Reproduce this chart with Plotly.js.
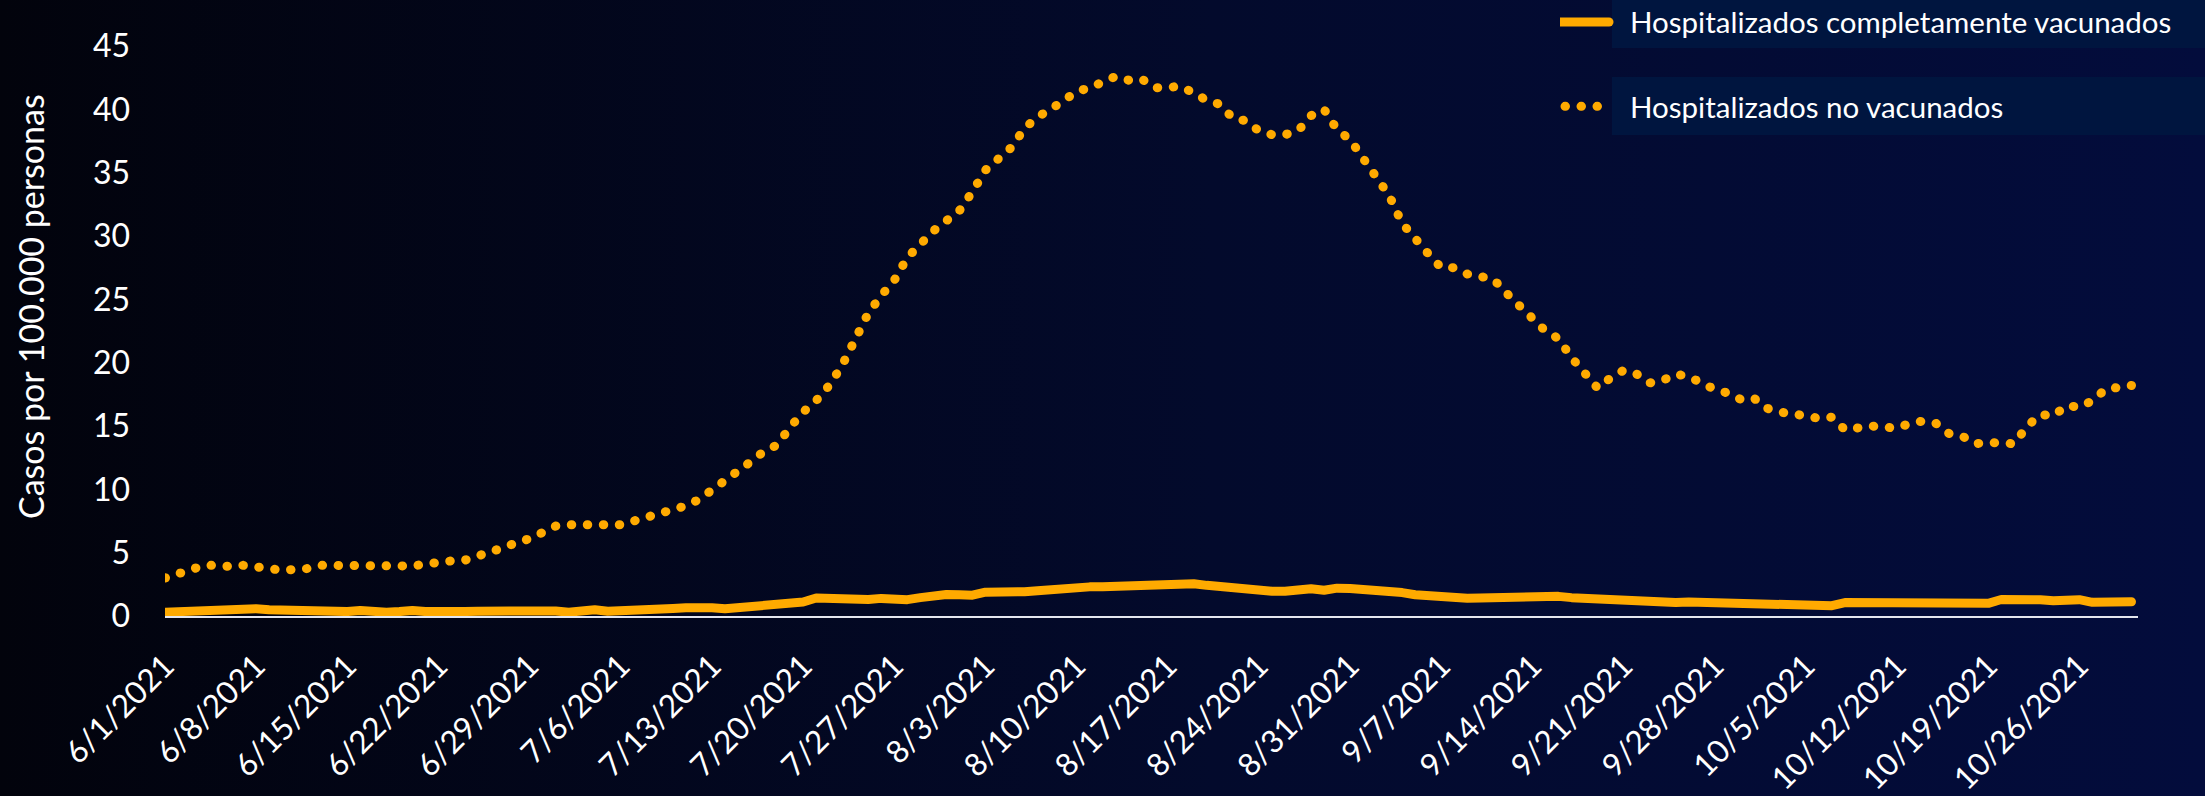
<!DOCTYPE html>
<html>
<head>
<meta charset="utf-8">
<script src="https://cdn.plot.ly/plotly-3.0.1.min.js"></script>
<style>
html, body { margin: 0; padding: 0; }
body { width: 2205px; height: 796px; overflow: hidden;
  background: linear-gradient(to right, #02030c 0%, #030a2c 55%, #030c3c 100%); }
#chart { width: 2205px; height: 796px; }
.js-line { stroke-linecap: round; stroke-linejoin: round; }
.legendlines path { transform: translateX(-16px); }
</style>
</head>
<body>
<div id="chart"></div>
<script>
// ---- data ----
var startDate = '2021-06-01';
var seriesNames = ['Hospitalizados completamente vacunados', 'Hospitalizados no vacunados'];

// Hospitalized fully vaccinated, per 100,000 (daily from 6/1/2021)
var vacunados = [
  0.3,0.35,0.4,0.45,0.5,0.55,0.6,0.58,0.5,0.47,
  0.47,0.45,0.33,0.3,0.35,0.44,0.35,0.3,0.35,0.44,
  0.35,0.3,0.3,0.35,0.38,0.4,0.4,0.42,0.43,0.44,
  0.4,0.3,0.4,0.5,0.38,0.45,0.55,0.58,0.6,0.6,
  0.65,0.7,0.65,0.57,0.65,0.78,0.88,0.92,0.98,1.1,
  1.42,1.38,1.3,1.23,1.3,1.39,1.35,1.29,1.45,1.62,
  1.7,1.67,1.64,1.88,1.85,1.83,1.92,2.0,2.1,2.22,
  2.26,2.3,2.31,2.35,2.45,2.48,2.5,2.5,2.62,2.55,
  2.42,2.3,2.22,2.15,2.05,1.96,1.96,2.05,2.15,2.03,
  2.2,2.17,2.12,2.08,2.0,1.85,1.68,1.58,1.58,1.5,
  1.4,1.42,1.45,1.57,1.6,1.6,1.6,1.55,1.45,1.4,
  1.36,1.25,1.14,1.1,1.08,1.05,1.07,1.1,1.08,1.05,
  1.03,1.02,1.01,1.0,0.82,0.81,0.82,0.82,0.81,1.06,
  1.06,1.05,1.03,1.02,1.0,0.98,0.95,0.92,0.93,0.95,
  1.0,1.3,1.32,1.3,1.29,1.2,1.25,1.29,1.08,1.08,
  1.1,1.12
];

// Hospitalized unvaccinated, per 100,000 (daily from 6/1/2021)
var noVacunados = [
  3.0,3.3,3.7,4.0,4.0,3.9,4.0,3.95,3.75,3.6,
  3.6,3.75,4.0,4.0,4.0,4.05,4.0,3.9,4.05,3.95,
  4.1,4.3,4.35,4.4,4.7,5.0,5.4,5.8,6.1,6.6,
  7.1,7.2,7.2,7.05,7.05,7.2,7.5,7.8,8.2,8.4,
  8.7,9.2,9.9,10.6,11.4,12.2,13.0,13.5,14.9,16.1,
  17.0,18.2,19.8,21.7,23.9,25.3,26.5,28.3,29.4,30.4,
  31.2,32.0,33.5,35.2,36.1,37.0,38.5,39.4,40.0,40.6,
  41.4,41.7,42.1,42.6,42.3,42.4,41.7,41.7,41.8,41.3,
  40.7,40.4,39.3,39.1,38.3,38.0,38.0,38.3,39.5,40.0,
  38.4,37.6,36.1,34.8,33.2,31.0,29.7,28.6,27.5,27.5,
  27.0,26.8,26.6,25.5,24.4,23.5,22.5,21.9,20.4,19.2,
  18.0,18.8,19.4,19.1,18.4,18.6,19.1,18.9,18.3,17.9,
  17.6,17.1,17.2,16.4,16.1,16.0,15.8,15.6,15.7,14.7,
  14.9,15.0,14.9,14.85,15.2,15.4,15.2,14.4,14.2,13.6,
  13.7,13.6,13.6,15.0,15.9,15.8,16.6,16.5,17.0,17.9,
  18.0,18.2
];

var tickDates = ['2021-06-01','2021-06-08','2021-06-15','2021-06-22','2021-06-29',
  '2021-07-06','2021-07-13','2021-07-20','2021-07-27','2021-08-03','2021-08-10',
  '2021-08-17','2021-08-24','2021-08-31','2021-09-07','2021-09-14','2021-09-21',
  '2021-09-28','2021-10-05','2021-10-12','2021-10-19','2021-10-26'];
var tickLabels = ['6/1/2021','6/8/2021','6/15/2021','6/22/2021','6/29/2021',
  '7/6/2021','7/13/2021','7/20/2021','7/27/2021','8/3/2021','8/10/2021',
  '8/17/2021','8/24/2021','8/31/2021','9/7/2021','9/14/2021','9/21/2021',
  '9/28/2021','10/5/2021','10/12/2021','10/19/2021','10/26/2021'];
var yTitle = 'Casos por 100.000 personas';

// ---- daily dates for the series ----
function isoDay(base, add) {
  var d = new Date(base + 'T00:00:00Z');
  d.setUTCDate(d.getUTCDate() + add);
  return d.toISOString().slice(0, 10);
}
var fechas = vacunados.map(function (_, i) { return isoDay(startDate, i); });
var lastDate = fechas[fechas.length - 1];

var ORANGE = '#FFAA00';
var W = 2205, H = 796, L = 165, R = 67, T = 46, B = 180;
var plotW = W - L - R, plotH = H - T - B;
function px2x(px) { return (px - L) / plotW; }
function px2y(py) { return (H - B - py) / plotH; }

var traces = [
  { x: fechas, y: vacunados, type: 'scatter', mode: 'lines', name: seriesNames[0],
    legendgroup: 'a', line: { color: ORANGE, width: 9 } },
  { x: fechas, y: noVacunados, type: 'scatter', mode: 'lines', name: seriesNames[1],
    legendgroup: 'b', line: { color: ORANGE, width: 9, dash: '0.5px,15.5px' } }
];

var layout = {
  width: W, height: H,
  margin: { l: L, r: R, t: T, b: B, pad: 0, autoexpand: false },
  paper_bgcolor: 'rgba(0,0,0,0)',
  plot_bgcolor: 'rgba(0,0,0,0)',
  font: { family: 'Lato, "Open Sans", sans-serif', color: '#FFFFFF', size: 32 },
  showlegend: true,
  legend: {
    x: px2x(1560), y: px2y(-3.7), xanchor: 'left', yanchor: 'top',
    bgcolor: 'rgba(0,0,0,0)', borderwidth: 0,
    font: { size: 29.5, color: '#FFFFFF' },
    tracegroupgap: 43, itemwidth: 60
  },
  xaxis: {
    type: 'date',
    range: [startDate, lastDate + ' 12:00'],
    tickmode: 'array', tickvals: tickDates, ticktext: tickLabels,
    tickangle: -45, ticks: '', showgrid: false, zeroline: false,
    showline: true, linecolor: '#E4E6EE', linewidth: 2,
    tickfont: { size: 31.5, color: '#FFFFFF' },
    ticklabelstandoff: 17, ticklabelshift: 0
  },
  yaxis: {
    range: [0, 45], tick0: 0, dtick: 5, ticks: '',
    showgrid: false, zeroline: false, showline: false,
    tickfont: { size: 32, color: '#FFFFFF' },
    ticklabelstandoff: 34
  },
  annotations: [{
    text: yTitle, textangle: -90, showarrow: false,
    xref: 'paper', yref: 'paper', x: px2x(30), y: px2y(307),
    xanchor: 'center', yanchor: 'middle',
    font: { size: 34, color: '#FFFFFF' }
  }],
  shapes: [
    { type: 'rect', xref: 'paper', yref: 'paper', layer: 'below',
      x0: px2x(1612), x1: px2x(2205), y0: px2y(48), y1: px2y(0),
      fillcolor: '#00153F', line: { width: 0 } },
    { type: 'rect', xref: 'paper', yref: 'paper', layer: 'below',
      x0: px2x(1612), x1: px2x(2205), y0: px2y(135), y1: px2y(77),
      fillcolor: '#00153F', line: { width: 0 } }
  ]
};

Plotly.newPlot('chart', traces, layout, { staticPlot: true, displayModeBar: false });
</script>
</body>
</html>
